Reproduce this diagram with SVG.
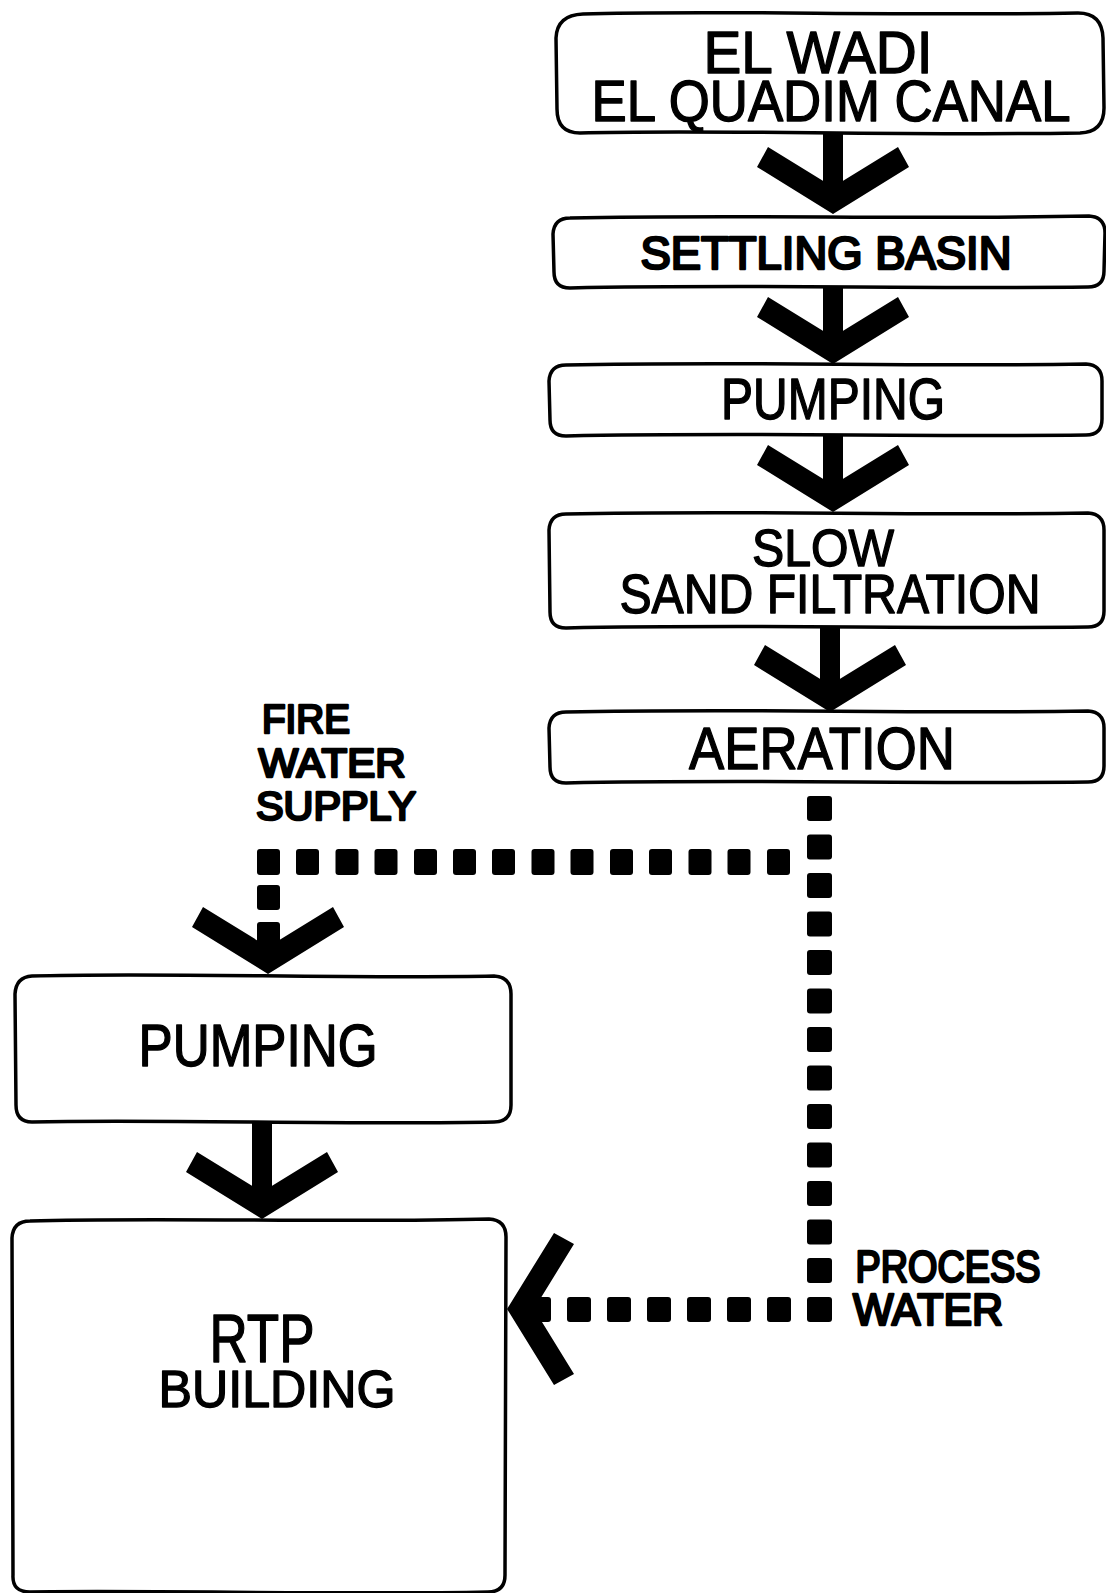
<svg xmlns="http://www.w3.org/2000/svg" width="1106" height="1593" viewBox="0 0 1106 1593">
<style>
.box{fill:#fff;stroke:#000;stroke-width:3.5;stroke-linejoin:round}
.t{font-family:"Liberation Sans",Arial,sans-serif;fill:#000;stroke:#000;stroke-width:1.4;stroke-linejoin:round;text-anchor:middle}
.heavy{stroke-width:2.6}
.stem{stroke:#000;stroke-width:20;fill:none}
.dot{fill:#000}
</style>
<defs>
<path id="chev" d="M0,0 L-76,-47 L-65,-67 L0,-27 L65,-67 L76,-47 Z" fill="#000"/>
</defs>
<rect width="1106" height="1593" fill="#fff"/>
<g id="connectors">
  <line class="stem" x1="833" y1="133" x2="833" y2="195"/>
  <use href="#chev" transform="translate(833,214)"/>
  <line class="stem" x1="833" y1="287" x2="833" y2="345"/>
  <use href="#chev" transform="translate(833,364)"/>
  <line class="stem" x1="833" y1="435" x2="833" y2="493"/>
  <use href="#chev" transform="translate(833,512)"/>
  <line class="stem" x1="830" y1="627" x2="830" y2="693"/>
  <use href="#chev" transform="translate(830,712)"/>
  <line class="stem" x1="262" y1="1122" x2="262" y2="1200"/>
  <use href="#chev" transform="translate(262,1219)"/>
  <g id="dots-main">
    <rect class="dot" x="807" y="796" width="25" height="25" rx="3"/>
    <rect class="dot" x="807" y="834.5" width="25" height="25" rx="3"/>
    <rect class="dot" x="807" y="873" width="25" height="25" rx="3"/>
    <rect class="dot" x="807" y="911.5" width="25" height="25" rx="3"/>
    <rect class="dot" x="807" y="950" width="25" height="25" rx="3"/>
    <rect class="dot" x="807" y="988.5" width="25" height="25" rx="3"/>
    <rect class="dot" x="807" y="1027" width="25" height="25" rx="3"/>
    <rect class="dot" x="807" y="1065.5" width="25" height="25" rx="3"/>
    <rect class="dot" x="807" y="1104" width="25" height="25" rx="3"/>
    <rect class="dot" x="807" y="1142.5" width="25" height="25" rx="3"/>
    <rect class="dot" x="807" y="1181" width="25" height="25" rx="3"/>
    <rect class="dot" x="807" y="1219.5" width="25" height="25" rx="3"/>
    <rect class="dot" x="807" y="1258" width="25" height="25" rx="3"/>
    <rect class="dot" x="807" y="1297" width="25" height="25" rx="3"/>
  </g>
  <g id="dots-process">
    <rect class="dot" x="527" y="1297" width="24" height="25" rx="3"/>
    <rect class="dot" x="567" y="1297" width="24" height="25" rx="3"/>
    <rect class="dot" x="607" y="1297" width="24" height="25" rx="3"/>
    <rect class="dot" x="647" y="1297" width="24" height="25" rx="3"/>
    <rect class="dot" x="687" y="1297" width="24" height="25" rx="3"/>
    <rect class="dot" x="727" y="1297" width="24" height="25" rx="3"/>
    <rect class="dot" x="767" y="1297" width="24" height="25" rx="3"/>
  </g>
  <use href="#chev" transform="translate(507,1309) rotate(90)"/>
  <g id="dots-fire">
    <rect class="dot" x="257" y="849" width="23" height="26" rx="3"/>
    <rect class="dot" x="296" y="849" width="23" height="26" rx="3"/>
    <rect class="dot" x="335.5" y="849" width="23" height="26" rx="3"/>
    <rect class="dot" x="374.5" y="849" width="23" height="26" rx="3"/>
    <rect class="dot" x="414" y="849" width="23" height="26" rx="3"/>
    <rect class="dot" x="453" y="849" width="23" height="26" rx="3"/>
    <rect class="dot" x="492" y="849" width="23" height="26" rx="3"/>
    <rect class="dot" x="531.5" y="849" width="23" height="26" rx="3"/>
    <rect class="dot" x="570.5" y="849" width="23" height="26" rx="3"/>
    <rect class="dot" x="610" y="849" width="23" height="26" rx="3"/>
    <rect class="dot" x="649" y="849" width="23" height="26" rx="3"/>
    <rect class="dot" x="688.5" y="849" width="23" height="26" rx="3"/>
    <rect class="dot" x="727.5" y="849" width="23" height="26" rx="3"/>
    <rect class="dot" x="767" y="849" width="23" height="26" rx="3"/>
    <rect class="dot" x="257" y="885" width="23" height="25" rx="3"/>
    <rect class="dot" x="257" y="922" width="23" height="25" rx="3"/>
  </g>
  <use href="#chev" transform="translate(268,974)"/>
</g>
<g id="n-canal">
  <path class="box" d="M583,14 C700,10 900,16 1078,13 Q1102,13 1103,38 L1104,108 Q1104,132 1080,133 C900,136 700,129 580,133 Q557,133 557,109 L556,38 Q557,15 583,14 Z"/>
  <text class="t"><tspan x="818" y="73" font-size="60" textLength="229" lengthAdjust="spacingAndGlyphs">EL WADI</tspan><tspan x="831" y="121" font-size="57" textLength="479" lengthAdjust="spacingAndGlyphs">EL QUADIM CANAL</tspan></text>
</g>
<g id="n-settling">
  <path class="box" d="M570,218 C750,214 900,220 1089,216 Q1105,217 1105,233 L1104,271 Q1104,287 1088,287 C900,289 750,284 570,288 Q554,288 554,272 L553,234 Q554,218 570,218 Z"/>
  <text class="t heavy" x="826" y="269" font-size="46" textLength="371" lengthAdjust="spacingAndGlyphs">SETTLING BASIN</text>
</g>
<g id="n-pumping1">
  <path class="box" d="M566,365 C750,361 900,367 1086,364 Q1102,365 1102,381 L1102,419 Q1102,435 1086,435 C900,437 750,432 566,436 Q550,436 550,420 L549,381 Q550,365 566,365 Z"/>
  <text class="t" x="833" y="419" font-size="58" textLength="224" lengthAdjust="spacingAndGlyphs">PUMPING</text>
</g>
<g id="n-filtration">
  <path class="box" d="M566,514 C750,510 900,516 1088,513 Q1104,514 1104,530 L1104,611 Q1104,627 1088,627 C900,629 750,624 566,628 Q550,628 550,612 L549,530 Q550,514 566,514 Z"/>
  <text class="t"><tspan x="823" y="566" font-size="52" textLength="142" lengthAdjust="spacingAndGlyphs">SLOW</tspan><tspan x="830" y="613" font-size="56" textLength="421" lengthAdjust="spacingAndGlyphs">SAND FILTRATION</tspan></text>
</g>
<g id="n-aeration">
  <path class="box" d="M566,712 C750,708 900,714 1088,711 Q1104,712 1104,728 L1104,766 Q1104,782 1088,782 C900,784 750,779 566,783 Q550,783 550,767 L549,728 Q550,712 566,712 Z"/>
  <text class="t" x="822" y="769" font-size="60" textLength="266" lengthAdjust="spacingAndGlyphs">AERATION</text>
</g>
<g id="l-fire">
  <text class="t heavy" font-size="40"><tspan x="306" y="733" textLength="88" lengthAdjust="spacingAndGlyphs">FIRE</tspan><tspan x="332" y="777" textLength="147" lengthAdjust="spacingAndGlyphs">WATER</tspan><tspan x="336" y="820" textLength="160" lengthAdjust="spacingAndGlyphs">SUPPLY</tspan></text>
</g>
<g id="l-process">
  <text class="t heavy" font-size="44"><tspan x="948" y="1282" textLength="185" lengthAdjust="spacingAndGlyphs">PROCESS</tspan><tspan x="928" y="1325" textLength="150" lengthAdjust="spacingAndGlyphs">WATER</tspan></text>
</g>
<g id="n-pumping2">
  <path class="box" d="M32,976 C150,972 350,979 494,976 Q511,977 511,994 L511,1105 Q511,1122 494,1122 C350,1125 150,1119 32,1122 Q16,1122 16,1105 L15,994 Q16,977 32,976 Z"/>
  <text class="t" x="258" y="1066" font-size="60" textLength="239" lengthAdjust="spacingAndGlyphs">PUMPING</text>
</g>
<g id="n-rtp">
  <path class="box" d="M30,1221 C150,1217 350,1223 489,1219 Q506,1220 506,1237 L505,1575 Q505,1592 488,1592 C350,1595 150,1590 30,1592 Q12,1592 13,1575 L12,1238 Q13,1221 30,1221 Z"/>
  <text class="t"><tspan x="262" y="1362" font-size="68" textLength="105" lengthAdjust="spacingAndGlyphs">RTP</tspan><tspan x="277" y="1407" font-size="52" textLength="237" lengthAdjust="spacingAndGlyphs">BUILDING</tspan></text>
</g>
</svg>
